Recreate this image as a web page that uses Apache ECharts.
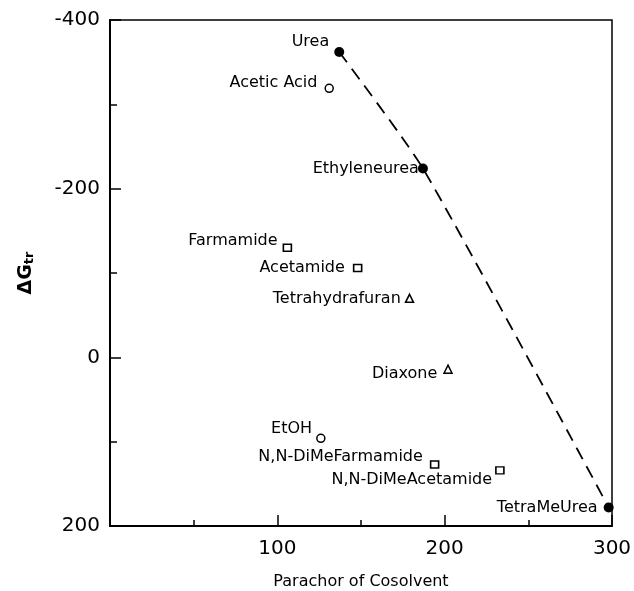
<!DOCTYPE html>
<html>
<head>
<meta charset="utf-8">
<script src="https://cdn.jsdelivr.net/npm/echarts@6/dist/echarts.min.js"></script>
<style>html,body{margin:0;padding:0;background:#fff}#c{width:634px;height:591px}</style>
</head>
<body>
<div id="c"></div>
<script>
// ---- data ----
const names = ['Urea', 'Acetic Acid', 'Ethyleneurea', 'Farmamide', 'Acetamide', 'Tetrahydrafuran',
  'Diaxone', 'EtOH', 'N,N-DiMeFarmamide', 'N,N-DiMeAcetamide', 'TetraMeUrea'];
const parachor = [137, 131, 187, 106, 148, 179, 202, 126, 194, 233, 298];
const deltaG = [-362, -319, -224, -130, -106, -70, 14, 96, 127, 134, 178];
const markerKind = ['filled', 'circle', 'filled', 'square', 'square', 'triangle',
  'triangle', 'circle', 'square', 'square', 'filled'];
// dashed trend curve through the urea series
const curveParachor = [137, 187, 298];
const curveDeltaG = [-362, -224, 178];
const xTicks = [0, 100, 200, 300];
const yTicks = [-400, -200, 0, 200];

// ---- styling (label nudges) ----
const labelNudge = {
  'Urea': [0, -10], 'Acetic Acid': [-2, -5], 'Ethyleneurea': [6, 0], 'Farmamide': [0, -7],
  'Acetamide': [-3, 0], 'Tetrahydrafuran': [1, 1], 'Diaxone': [-1, 5], 'EtOH': [1, -9],
  'N,N-DiMeFarmamide': [-2, -8], 'N,N-DiMeAcetamide': [2, 10], 'TetraMeUrea': [-1, 0]
};
const FONT = 'DejaVu Sans';

function pts(kind) {
  const out = [];
  names.forEach((n, i) => {
    if (markerKind[i] === kind) {
      out.push({ name: n, value: [parachor[i], deltaG[i]], label: { offset: labelNudge[n] || [0, 0] } });
    }
  });
  return out;
}
const labelCfg = { show: true, position: 'left', distance: 5, formatter: '{b}', color: '#000', opacity: 1, fontSize: 16, fontFamily: FONT };
const openStyle = { color: '#fff', borderColor: '#000', borderWidth: 1.5, opacity: 1 };

const chart = echarts.init(document.getElementById('c'), null, { renderer: 'canvas' });
chart.setOption({
  backgroundColor: '#fff',
  animation: false,
  grid: { left: 110, right: 22, top: 20, bottom: 65, containLabel: false, outerBoundsMode: 'none',
    show: true, borderColor: '#000', borderWidth: 1.5, backgroundColor: 'transparent' },
  xAxis: {
    type: 'value', min: xTicks[0], max: xTicks[xTicks.length - 1], interval: 100,
    name: 'Parachor of Cosolvent', nameLocation: 'middle', nameGap: 48,
    nameTextStyle: { fontSize: 16, fontFamily: FONT, color: '#000' },
    axisLine: { show: true, onZero: false, lineStyle: { color: '#000', width: 2 } },
    axisTick: { show: true, inside: true, length: 11, lineStyle: { color: '#000', width: 1.5 } },
    minorTick: { show: true, splitNumber: 2, length: 6, lineStyle: { color: '#000', width: 1.5 } },
    splitLine: { show: false },
    axisLabel: { fontSize: 20, fontFamily: FONT, color: '#000', margin: 13,
      formatter: v => (v === 0 ? '' : String(v)) }
  },
  yAxis: {
    type: 'value', inverse: true, min: yTicks[0], max: yTicks[yTicks.length - 1], interval: 200,
    name: '{a|ΔG}{b|tr}', nameLocation: 'middle', nameGap: 74, nameRotate: 90,
    nameTextStyle: { color: '#000', fontFamily: FONT,
      rich: { a: { fontSize: 19, fontWeight: 'bold', fontFamily: FONT, color: '#000', verticalAlign: 'bottom', lineHeight: 22 },
              b: { fontSize: 13, fontWeight: 'bold', fontFamily: FONT, color: '#000', verticalAlign: 'bottom', lineHeight: 14, padding: [10, 0, 0, 0] } } },
    axisLine: { show: true, onZero: false, lineStyle: { color: '#000', width: 2 } },
    axisTick: { show: true, inside: true, length: 11, lineStyle: { color: '#000', width: 1.5 } },
    minorTick: { show: true, splitNumber: 2, length: 7, lineStyle: { color: '#000', width: 1.5 } },
    splitLine: { show: false },
    axisLabel: { fontSize: 20, fontFamily: FONT, color: '#000', margin: 10 }
  },
  series: [
    { type: 'line', data: curveParachor.map((x, i) => [x, curveDeltaG[i]]), smooth: 0.2, showSymbol: false,
      lineStyle: { color: '#000', width: 1.8, type: [13, 8], opacity: 1 }, z: 1, silent: true },
    { type: 'scatter', data: pts('filled'), symbol: 'circle', symbolSize: 10,
      itemStyle: { color: '#000', opacity: 1 }, label: labelCfg, z: 3 },
    { type: 'scatter', data: pts('circle'), symbol: 'circle', symbolSize: 8,
      itemStyle: openStyle, label: labelCfg, z: 3 },
    { type: 'scatter', data: pts('square'), symbol: 'rect', symbolSize: [8, 7],
      itemStyle: openStyle, label: labelCfg, z: 3 },
    { type: 'scatter', data: pts('triangle'), symbol: 'triangle', symbolSize: 8,
      itemStyle: openStyle, label: labelCfg, z: 3 }
  ]
});
</script>
</body>
</html>
